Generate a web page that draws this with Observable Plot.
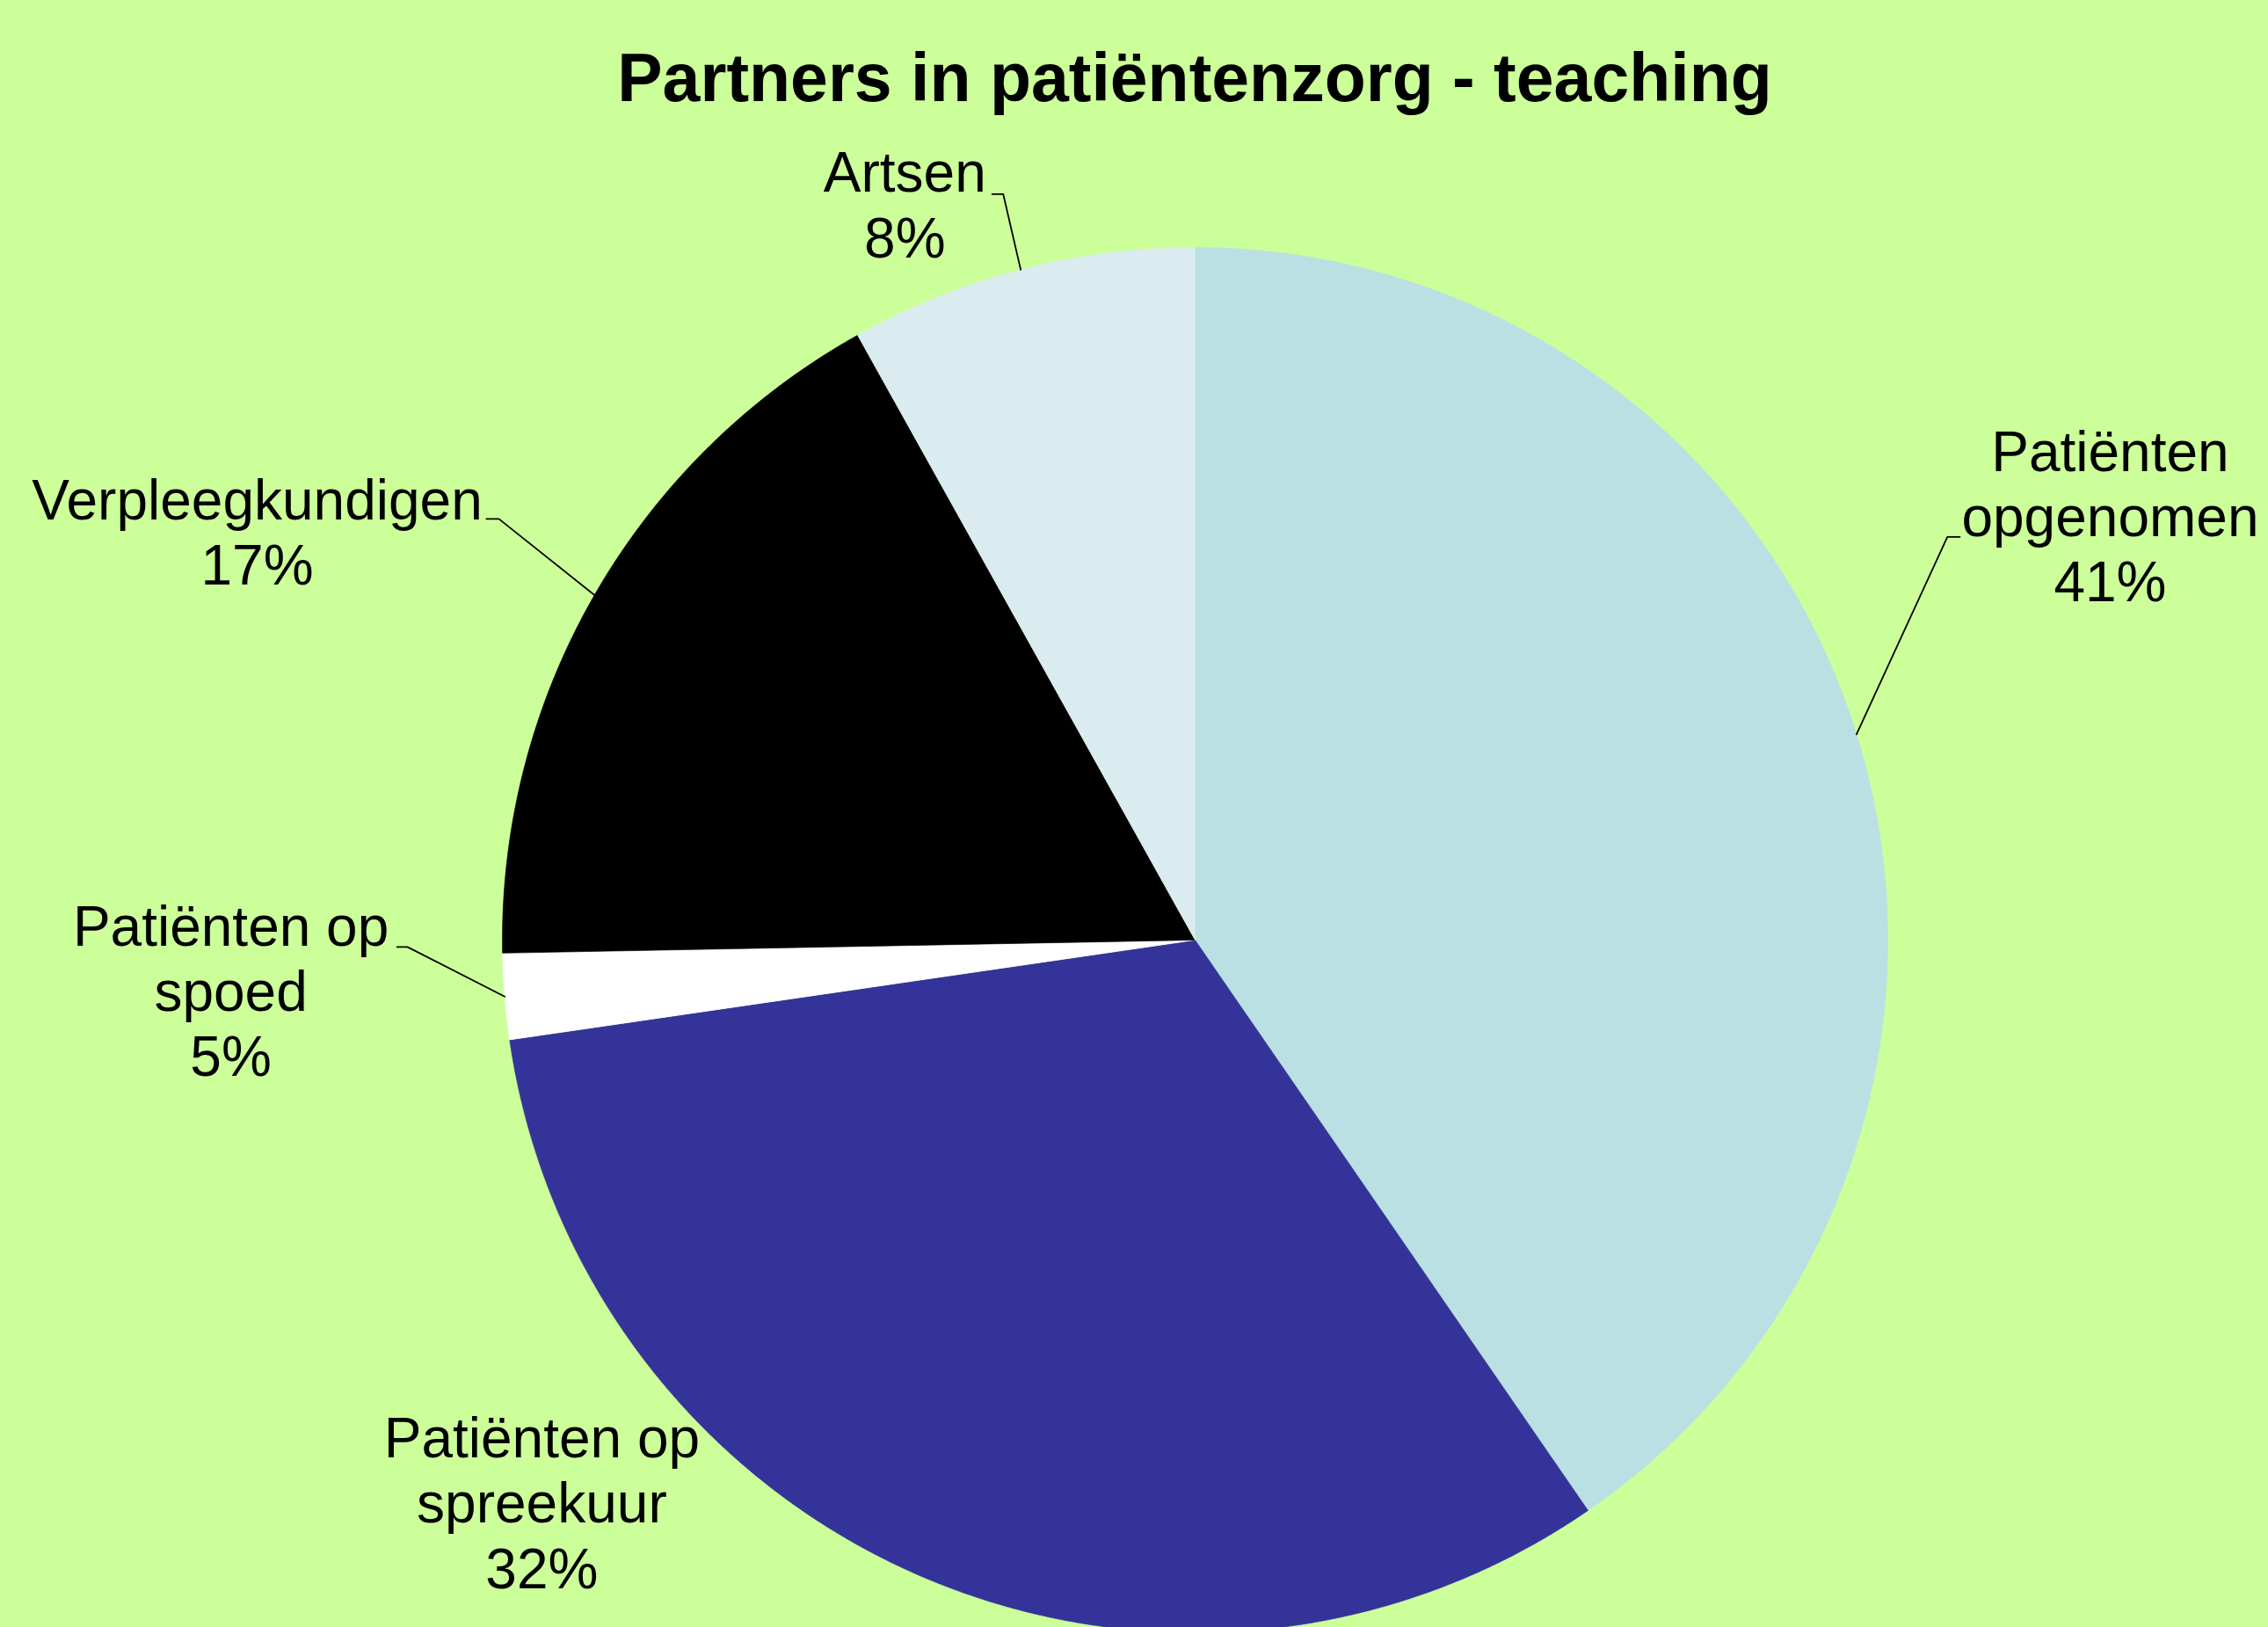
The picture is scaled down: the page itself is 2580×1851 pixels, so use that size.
<!DOCTYPE html>
<html>
<head>
<meta charset="utf-8">
<script src="https://cdn.jsdelivr.net/npm/d3@7"></script>
<script src="https://cdn.jsdelivr.net/npm/@observablehq/plot@0.6"></script>
<style>
  html, body { margin: 0; padding: 0; background: #CCFF99; overflow: hidden; }
  #title {
    height: 150px; box-sizing: border-box; padding-top: 50px;
    font-family: "Liberation Sans", Arial, sans-serif; font-weight: bold;
    font-size: 77px; line-height: 76px; text-align: center;
    width: 2718px; color: #000;
  }
  #chart svg { display: block; }
</style>
</head>
<body>
<div id="title">Partners in patiëntenzorg - teaching</div>
<div id="chart"></div>
<script>
// ---- data ----
const categories = ["Patiënten opgenomen", "Patiënten op spreekuur", "Patiënten op spoed", "Verpleegkundigen", "Artsen"];
const labelNames = ["Patiënten\nopgenomen", "Patiënten op\nspreekuur", "Patiënten op\nspoed", "Verpleegkundigen", "Artsen"];
const shares = [40.4, 32.3, 2.0, 17.2, 8.1];          // drawn slice sizes
const percentLabels = ["41%", "32%", "5%", "17%", "8%"]; // printed labels
const colors = ["#BBE0E3", "#333399", "#FFFFFF", "#000000", "#DAECEF"];

// ---- layout (in pie-radius units, y up, centre = 0,0) ----
const layout = {
  width: 2580, height: 1701, cx: 1359, cy: 919, R: 788,
  labelPos: [[1.321, 0.613], [-0.943, -0.811], [-1.392, -0.072], [-1.354, 0.590], [-0.419, 1.063]],
  elbow: [[1.086, 0.582], null, [-1.137, -0.010], [-1.005, 0.608], [-0.277, 1.077]],
  tickEnd: [1.104, null, -1.152, -1.023, -0.293]
};

const pie = d3.pie().sort(null).value(d => d.value).startAngle(0).endAngle(2 * Math.PI);
const rows = categories.map((c, i) => ({name: c, value: shares[i], label: labelNames[i] + "\n" + percentLabels[i], i}));
const arcs = pie(rows);

const polar = (a, r) => [r * Math.sin(a), r * Math.cos(a)];
const slicePts = [];
for (const a of arcs) {
  const n = Math.max(4, Math.ceil((a.endAngle - a.startAngle) / 0.004));
  slicePts.push({name: a.data.name, x: 0, y: 0});
  for (let k = 0; k <= n; k++) {
    const t = a.startAngle + (a.endAngle - a.startAngle) * k / n;
    const [x, y] = polar(t, 1);
    slicePts.push({name: a.data.name, x, y});
  }
}

const leaderPts = [];
arcs.forEach((a, i) => {
  if (!layout.elbow[i]) return;
  const mid = (a.startAngle + a.endAngle) / 2;
  const [ex, ey] = polar(mid, 1);
  const [bx, by] = layout.elbow[i];
  leaderPts.push({k: i, x: layout.tickEnd[i], y: by});
  leaderPts.push({k: i, x: bx, y: by});
  leaderPts.push({k: i, x: ex, y: ey});
});

const labels = rows.map((r, i) => ({label: r.label, x: layout.labelPos[i][0], y: layout.labelPos[i][1]}));

const {width, height, cx, cy, R} = layout;
const chart = Plot.plot({
  width, height,
  margin: 0,
  style: {background: "transparent", fontFamily: "'Liberation Sans', Arial, sans-serif", overflow: "hidden"},
  x: {domain: [-cx / R, (width - cx) / R], axis: null},
  y: {domain: [-(height - cy) / R, cy / R], axis: null},
  color: {domain: categories, range: colors},
  marks: [
    Plot.line(slicePts, {x: "x", y: "y", z: "name", fill: "name", stroke: "name", strokeWidth: 0.6, curve: "linear"}),
    Plot.line(leaderPts, {x: "x", y: "y", z: "k", stroke: "#000", strokeWidth: 1.8, curve: "linear"}),
    Plot.text(labels, {x: "x", y: "y", text: "label", fontSize: 64, lineHeight: 1.16, fill: "#000", textAnchor: "middle"})
  ]
});
document.getElementById("chart").appendChild(chart);
</script>
</body>
</html>
